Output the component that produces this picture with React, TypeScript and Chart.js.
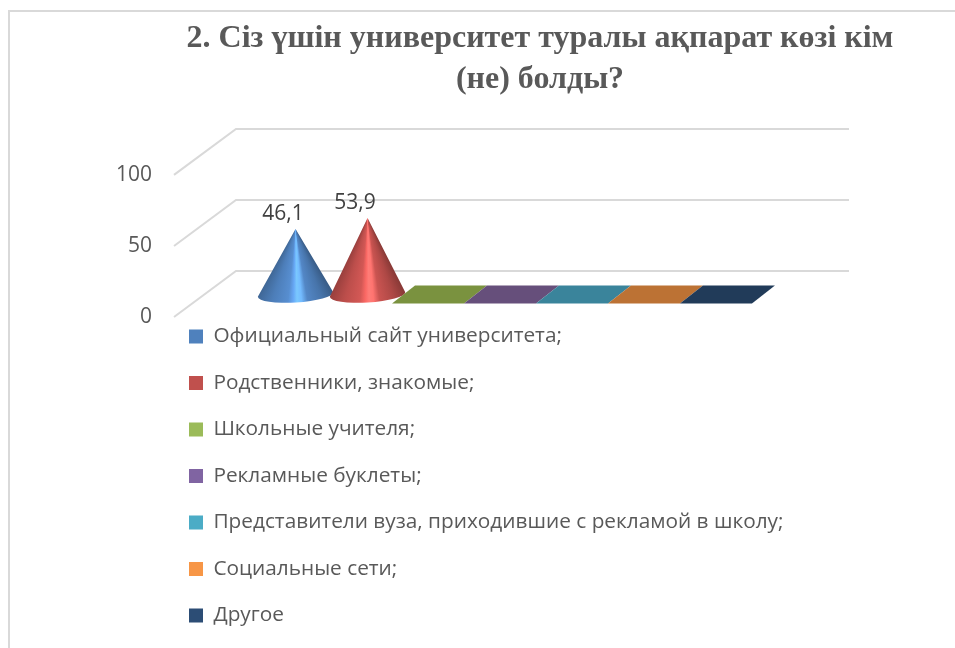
import React, { useEffect, useRef } from "react";
import { Chart, registerables } from "chart.js";

Chart.register(...registerables);

const chartTitle = ["2. Сіз үшін университет туралы ақпарат көзі кім", "(не) болды?"];
const categories = ["Источник"];
const seriesNames = [
  "Официальный сайт университета;",
  "Родственники, знакомые;",
  "Школьные учителя;",
  "Рекламные буклеты;",
  "Представители вуза, приходившие с рекламой в школу;",
  "Социальные сети;",
  "Другое",
];
const seriesValues = [46.1, 53.9, 0, 0, 0, 0, 0];
const seriesColors = ["#4F81BD", "#C0504D", "#9BBB59", "#8064A2", "#4BACC6", "#F79646", "#2C4D75"];
const flatColors = ["#3C6494", "#984040", "#7A923F", "#664F7B", "#3A849B", "#BC7234", "#213B59"];
const axisMax = 100;
const axisStep = 50;

const UI_FONT = '"Open Sans", sans-serif';
const GRID = "#D9D9D9";
const WALL_DX = 62;
const WALL_DY = 46;
const PLANE_DX = 31;
const PLANE_DY = 22.5;
const FLAT_DX = 23;
const FLAT_DY = 18;

function shade(hex: string, k: number) {
  const n = parseInt(hex.slice(1), 16);
  const c = [(n >> 16) & 255, (n >> 8) & 255, n & 255].map((v) => Math.min(255, Math.round(v * k)));
  return `rgb(${c[0]},${c[1]},${c[2]})`;
}

function drawCone(ctx: CanvasRenderingContext2D, cx: number, cy: number, apexY: number, halfW: number, color: string) {
  const rx = halfW * 1.05;
  const ry = 8;
  const rot = -0.06;
  const alpha = Math.atan2(rx, cy - apexY);
  const at = (t: number) => (Math.PI / 2 + alpha - 2 * alpha * t) / (2 * Math.PI);
  const g = (ctx as any).createConicGradient(0, cx, apexY);
  const stops: [number, number][] = [
    [0, 0.78],
    [0.2, 0.98],
    [0.4, 1.1],
    [0.47, 1.3],
    [0.52, 1.55],
    [0.58, 1.45],
    [0.66, 1.05],
    [0.85, 0.9],
    [1, 0.72],
  ];
  g.addColorStop(0, shade(color, 0.72));
  stops.forEach(([t, k]) => g.addColorStop(at(t), shade(color, k)));
  g.addColorStop(0.5, shade(color, 0.78));
  ctx.save();
  ctx.beginPath();
  ctx.moveTo(cx, apexY);
  ctx.lineTo(cx + rx * Math.cos(rot), cy + rx * Math.sin(rot));
  ctx.ellipse(cx, cy, rx, ry, rot, 0, Math.PI, false);
  ctx.closePath();
  ctx.fillStyle = g;
  ctx.fill();
  ctx.restore();
}

const conePlugin = {
  id: "cone3d",
  afterLayout(chart: any) {
    const legend = chart.legend;
    const pad = legend.options.labels.padding;
    legend.left = 189 - pad;
    legend.right = 955;
    legend.width = legend.right - legend.left;
    legend.top = 326 - pad;
    legend.bottom = 720;
    legend.height = legend.bottom - legend.top;
    const t = chart.titleBlock;
    t.left = 125;
    t.right = 955;
    t.width = 830;
  },
  beforeDraw(chart: any) {
    const ctx = chart.ctx;
    ctx.save();
    ctx.fillStyle = "#fff";
    ctx.fillRect(0, 0, chart.width, chart.height);
    ctx.strokeStyle = GRID;
    ctx.lineWidth = 2;
    ctx.beginPath();
    ctx.moveTo(chart.width, 11);
    ctx.lineTo(9, 11);
    ctx.lineTo(9, chart.height);
    ctx.stroke();
    ctx.restore();
  },
  beforeDatasetsDraw(chart: any) {
    const ctx = chart.ctx;
    const y = chart.scales.y;
    const a = chart.chartArea;
    ctx.save();
    ctx.strokeStyle = GRID;
    ctx.lineWidth = 2;
    y.ticks.forEach((tick: any) => {
      const py = y.getPixelForValue(tick.value);
      ctx.beginPath();
      ctx.moveTo(a.left, py);
      ctx.lineTo(a.left + WALL_DX, py - WALL_DY);
      ctx.lineTo(a.right + WALL_DX, py - WALL_DY);
      ctx.stroke();
    });
    ctx.restore();
  },
  beforeDatasetDraw() {
    return false;
  },
  afterDatasetsDraw(chart: any) {
    const ctx = chart.ctx;
    chart.data.datasets.forEach((ds: any, i: number) => {
      const bar = chart.getDatasetMeta(i).data[0] as any;
      const cx = bar.x + PLANE_DX;
      const cy = bar.base - PLANE_DY;
      const w = bar.width;
      if (ds.data[0] > 0) {
        drawCone(ctx, cx, cy, bar.y - PLANE_DY, w / 2, seriesColors[i]);
      } else {
        ctx.fillStyle = flatColors[i];
        ctx.beginPath();
        ctx.moveTo(cx - w / 2 - FLAT_DX / 2, cy + FLAT_DY / 2);
        ctx.lineTo(cx + w / 2 - FLAT_DX / 2, cy + FLAT_DY / 2);
        ctx.lineTo(cx + w / 2 + FLAT_DX / 2, cy - FLAT_DY / 2);
        ctx.lineTo(cx - w / 2 + FLAT_DX / 2, cy - FLAT_DY / 2);
        ctx.closePath();
        ctx.fill();
      }
    });
    ctx.save();
    ctx.font = `21px ${UI_FONT}`;
    ctx.fillStyle = "#404040";
    ctx.textAlign = "center";
    ctx.textBaseline = "middle";
    chart.data.datasets.forEach((ds: any, i: number) => {
      if (ds.data[0] > 0) {
        const bar = chart.getDatasetMeta(i).data[0] as any;
        ctx.fillText(String(ds.data[0]).replace(".", ","), bar.x + PLANE_DX - 12.5, bar.y - PLANE_DY - 15);
      }
    });
    ctx.restore();
  },
};

export default function App() {
  const ref = useRef<HTMLCanvasElement>(null);
  useEffect(() => {
    const chart = new Chart(ref.current as HTMLCanvasElement, {
      type: "bar",
      data: {
        labels: categories,
        datasets: seriesNames.map((name, i) => ({
          label: name,
          data: [seriesValues[i]],
          backgroundColor: seriesColors[i],
          borderWidth: 0,
          barPercentage: 1,
          categoryPercentage: 0.822,
        })),
      },
      plugins: [conePlugin],
      options: {
        responsive: false,
        animation: false,
        layout: { padding: { left: 0, right: 168, top: 0, bottom: 331 } },
        plugins: {
          tooltip: { enabled: false },
          title: {
            display: true,
            text: chartTitle,
            color: "#595959",
            font: { family: '"Liberation Serif", serif', size: 32, weight: "bold", lineHeight: 1.28 },
            padding: { top: 18.5, bottom: 74.5 },
          },
          legend: {
            display: true,
            position: "left",
            align: "start",
            maxWidth: 1,
            labels: {
              boxWidth: 14,
              boxHeight: 14,
              padding: 25.7,
              color: "#595959",
              font: { family: UI_FONT, size: 20.8 },
            },
          },
        },
        scales: {
          x: { display: false, grid: { display: false } },
          y: {
            min: 0,
            max: axisMax,
            afterFit: (scale: any) => {
              scale.width = 173;
            },
            ticks: {
              stepSize: axisStep,
              padding: 22,
              color: "#595959",
              font: { family: UI_FONT, size: 21 },
            },
            grid: { display: false, drawTicks: false },
            border: { display: false },
          },
        },
      },
    } as any);
    return () => chart.destroy();
  }, []);
  return (
    <canvas
      ref={ref}
      width={955}
      height={648}
      style={{ position: "absolute", left: 0, top: 0, display: "block" }}
    />
  );
}
